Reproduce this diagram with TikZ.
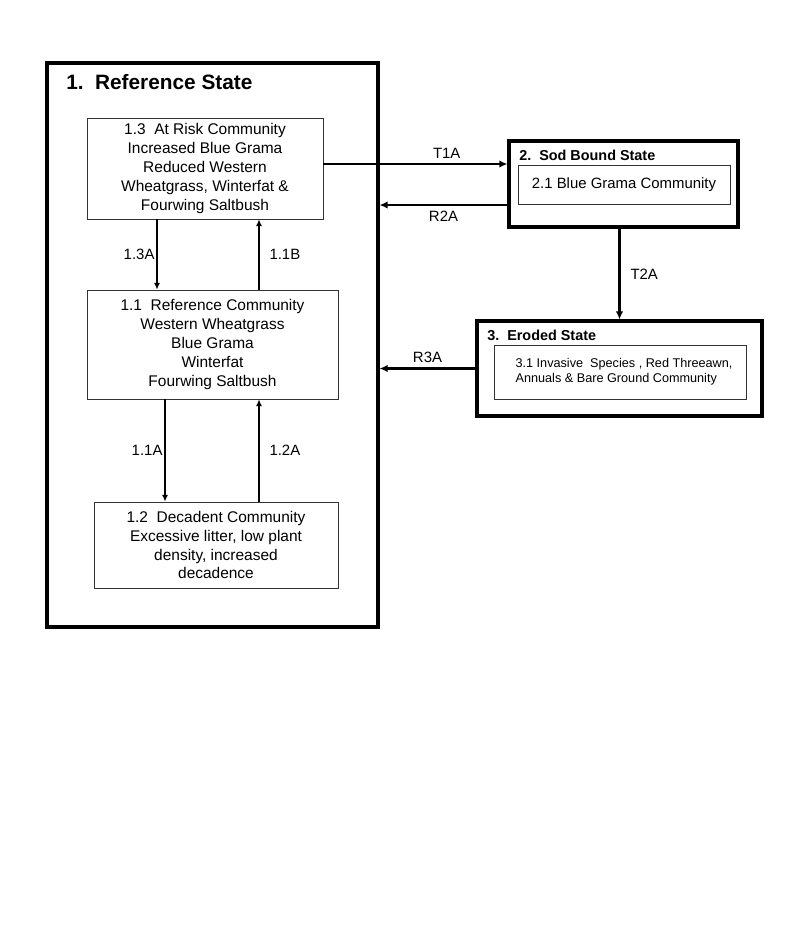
\documentclass[tikz,border=0pt]{standalone}
\usepackage{fontspec}
\setmainfont{Liberation Sans}
\usetikzlibrary{arrows.meta}
\tikzset{thin arrow/.style={-{Latex[length=5pt,width=4.5pt]},line width=0.8pt},thick arrow/.style={-{Latex[length=6pt,width=5.5pt]},line width=1.6pt},state/.style={rectangle,draw=black,line width=2.3pt},box/.style={rectangle,draw=black!80,line width=0.7pt,align=center,inner sep=1mm,font=\fontsize{11.6}{14.2}\selectfont},title/.style={anchor=west,inner sep=0pt,font=\bfseries\fontsize{10.8}{12}\selectfont},lab/.style={font=\fontsize{11.2}{13}\selectfont,inner sep=1.5pt}}

\begin{document}
\begin{tikzpicture}[x=0.75pt,y=-0.75pt]
\useasboundingbox[fill=white] (0,0) rectangle (800,940);
%reference state
\node (s1) at (212.5,345)[state,minimum width=248.25pt,minimum height=423pt]{};
\node (t1) at (66,82)[title,font=\bfseries\fontsize{15.6}{18}\selectfont]{1.~~Reference State};
\node (c13) at (205,168.5)[box,minimum width=177pt,minimum height=75.75pt]{1.3~~At Risk Community\\Increased Blue Grama\\Reduced Western\\Wheatgrass, Winterfat~\&\\Fourwing Saltbush};
\node (c11) at (212.5,344.5)[box,minimum width=188.25pt,minimum height=81.75pt]{1.1~~Reference Community\\Western Wheatgrass\\Blue Grama\\Winterfat\\Fourwing Saltbush};
\node (c12) at (216,545)[box,minimum width=183pt,minimum height=64.5pt]{1.2~~Decadent Community\\Excessive litter, low plant\\density, increased\\decadence};
\coordinate (x13) at (157,0);
\coordinate (x11) at (165,0);
\coordinate (xup) at (259,0);
\draw[thin arrow] (c13.south -| x13) -- node[lab,left]{1.3A} (c11.north -| x13);
\draw[thin arrow] (c11.north -| xup) -- node[lab,right=6pt]{1.1B} (c13.south -| xup);
\draw[thin arrow] (c11.south -| x11) -- node[lab,left]{1.1A} (c12.north -| x11);
\draw[thin arrow] (c12.north -| xup) -- node[lab,right=6pt]{1.2A} (c11.south -| xup);

%sod bound state
\node (s2) at (623.5,184)[state,minimum width=171.75pt,minimum height=64.5pt]{};
\node (t2) at (519,155)[title]{2.~~Sod Bound State};
\node (c21) at (624,184.5)[box,minimum width=159pt,minimum height=29.25pt,font=\fontsize{11.2}{13}\selectfont]{2.1 Blue Grama Community};
\coordinate (t1a) at (0,164);
\coordinate (r2a) at (0,205);
\draw[thick arrow] (c13.east |- t1a) -- node[lab,pos=0.67,above=2pt]{T1A} (s2.west |- t1a);
\draw[thick arrow] (s2.west |- r2a) -- node[lab,midway,below=2pt]{R2A} (s1.east |- r2a);

%eroded state
\node (s3) at (619.5,368.5)[state,minimum width=213.75pt,minimum height=71.25pt]{};
\node (t3) at (487,335)[title]{3.~~Eroded State};
\node (c31) at (620,372)[box,minimum width=189pt,minimum height=40.5pt,align=left,font=\fontsize{9.5}{11.3}\selectfont]{\hspace*{6pt}3.1 Invasive~~Species , Red Threeawn,\\\hspace*{6pt}Annuals \& Bare Ground Community};
\draw[thick arrow] (s2.south -| s3.north) -- node[lab,midway,right=6pt]{T2A} (s3.north);
\draw[thick arrow] (s3.west) -- node[lab,midway,above=2pt]{R3A} (s1.east |- s3.west);

\end{tikzpicture}
\end{document}
